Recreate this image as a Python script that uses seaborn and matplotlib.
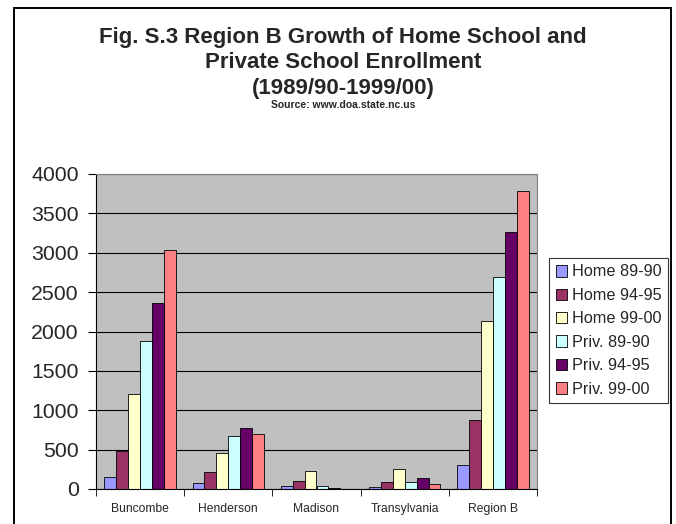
import matplotlib
matplotlib.use("Agg")
import matplotlib.pyplot as plt
import seaborn as sns
import pandas as pd
import numpy as np

regioes = ["Buncombe", "Henderson", "Madison", "Transylvania", "Region B"]
series = ["Home 89-90", "Home 94-95", "Home 99-00", "Priv. 89-90", "Priv. 94-95", "Priv. 99-00"]

home_89 = [156, 72, 32, 30, 300]
home_94 = [486, 214, 96, 85, 880]
home_99 = [1202, 461, 227, 250, 2129]
priv_89 = [1879, 673, 32, 85, 2688]
priv_94 = [2358, 770, 15, 140, 3268]
priv_99 = [3031, 698, 3, 60, 3788]

cores = ["#9999FF", "#993366", "#FFFFCC", "#CCFFFF", "#660066", "#FF8080"]

valores = [home_89, home_94, home_99, priv_89, priv_94, priv_99]
df = pd.DataFrame([
    {"Regiao": r, "Serie": s, "Alunos": v}
    for s, vals in zip(series, valores)
    for r, v in zip(regioes, vals)
])

sns.set_style("white")
plt.rcParams['font.family'] = ['Liberation Sans', 'DejaVu Sans']

fig = plt.figure(figsize=(6.76, 5.24), dpi=100)
ax = fig.add_axes([96 / 676, 1 - 489 / 524, 441 / 676, 315 / 524])
ax.set_facecolor("#C0C0C0")

sns.barplot(data=df, x="Regiao", y="Alunos", hue="Serie", palette=cores,
            order=regioes, hue_order=series, width=0.81, ax=ax,
            edgecolor="black", linewidth=0.6, saturation=1, errorbar=None)

ax.set_ylim(0, 4000)
ax.set_yticks(np.arange(0, 4001, 500))
ax.yaxis.grid(True, color="black", linewidth=0.8)
ax.set_axisbelow(True)
ax.tick_params(axis="y", labelsize=15.3, length=5.5, color="black", direction="out", left=True, pad=7)
ax.set_xlim(-0.5, len(regioes) - 0.5)
ax.set_xticks(range(len(regioes)))
ax.set_xticklabels(regioes, fontsize=8.7)
ax.tick_params(axis="x", which="major", length=0, pad=10)
ax.set_xticks(np.arange(-0.5, len(regioes)), minor=True)
ax.tick_params(axis="x", which="minor", length=5, color="black", direction="out", bottom=True)
ax.set_xlabel("")
ax.set_ylabel("")
for lado in ["top", "right"]:
    ax.spines[lado].set_color("#808080")
    ax.spines[lado].set_linewidth(0.8)
for lado in ["left", "bottom"]:
    ax.spines[lado].set_color("black")
    ax.spines[lado].set_linewidth(0.8)

leg = ax.legend(loc="upper left", bbox_to_anchor=(549 / 676, 1 - 258 / 524),
                bbox_transform=fig.transFigure, frameon=True, fontsize=11.7,
                fancybox=False, edgecolor="black", handlelength=0.7, handleheight=0.7,
                handletextpad=0.3, borderpad=0.4, labelspacing=0.52, borderaxespad=0)
leg.get_frame().set_linewidth(0.8)
for h in leg.legend_handles:
    h.set_edgecolor("black")
    h.set_linewidth(0.6)

fig.text(343 / 676, 1 - 38 / 524, "Fig. S.3 Region B Growth of Home School and",
         ha="center", va="center", fontsize=16, fontweight="bold")
fig.text(343 / 676, 1 - 63 / 524, "Private School Enrollment",
         ha="center", va="center", fontsize=16, fontweight="bold")
fig.text(343 / 676, 1 - 88 / 524, "(1989/90-1999/00)",
         ha="center", va="center", fontsize=16, fontweight="bold")
fig.text(343 / 676, 1 - 105 / 524, "Source: www.doa.state.nc.us",
         ha="center", va="center", fontsize=7.5, fontweight="bold")

fig.patches.append(plt.Rectangle((14 / 676, -6 / 524), 657 / 676, 522 / 524,
                                 transform=fig.transFigure, fill=False,
                                 edgecolor="black", linewidth=1.4))

fig.savefig("out.png", dpi=100)
